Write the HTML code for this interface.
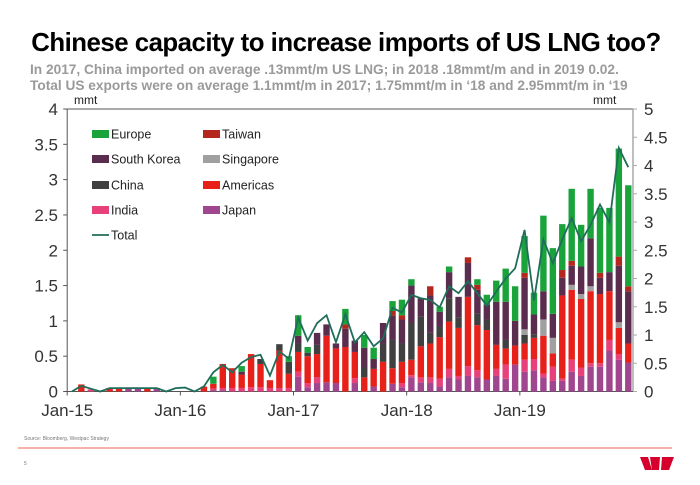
<!DOCTYPE html>
<html><head><meta charset="utf-8">
<style>
body{margin:0;width:700px;height:485px;background:#fff;overflow:hidden;font-family:"Liberation Sans",Arial,sans-serif}
#c{position:absolute;left:0;top:0}
</style></head><body>
<svg id="c" width="700" height="485">
<text x="346" y="51" text-anchor="middle" font-size="25.8" font-weight="bold" fill="#000" letter-spacing="-0.5">Chinese capacity to increase imports of US LNG too?</text>
<text x="30" y="74" font-size="13.7" font-weight="bold" fill="#9a9a9a">In 2017, China imported on average .13mmt/m US LNG; in 2018 .18mmt/m and in 2019 0.02.</text>
<text x="30" y="90" font-size="13.7" font-weight="bold" fill="#9a9a9a">Total US exports were on average 1.1mmt/m in 2017; 1.75mmt/m in ‘18 and 2.95mmt/m in ‘19</text>
<text x="74" y="104" font-size="12" fill="#222">mmt</text>
<text x="593" y="104" font-size="12" fill="#222">mmt</text>
<g id="axes"></g><g id="bars"></g><g id="line"></g>
<g id="legend"></g>
<text x="24" y="440" font-size="5" fill="#777">Source: Bloomberg, Westpac Strategy</text>
<line x1="18" y1="448" x2="672" y2="448" stroke="#f06055" stroke-width="1"/>
<text x="24" y="465" font-size="5" fill="#777">5</text>
<g fill="#d5002b">
<polygon points="640,457 648,457 652,470 645,470"/><polygon points="650,457 660,457 659,470 652,470"/><polygon points="662,457 674,457 669,470 661,470"/>
</g>
</svg>
<script>
const months=60;
const yearLabels=["Jan-15","Jan-16","Jan-17","Jan-18","Jan-19"];
const leftTicks=["0","0.5","1","1.5","2","2.5","3","3.5","4"];
const rightTicks=["0","0.5","1","1.5","2","2.5","3","3.5","4","4.5","5"];
const seriesNames=["Japan","India","Americas","China","Singapore","South Korea","Taiwan","Europe"];
const japan=[0,0,0,0,0,0,.05,.05,0,.05,0,0,0,0,0,.02,.02,0,0,0,0,0,0,0,.21,.06,.12,.13,.12,0,.12,0,.07,0,.11,.06,.2,.13,.12,.07,.2,.17,.22,.2,.17,.22,.18,.38,.28,.3,.2,.15,.15,.28,.22,.35,.35,.58,.45,.41];
const india=[0,0,.03,0,0,0,0,0,0,0,0,0,0,0,0,.02,.03,.05,.05,.06,.06,.05,.05,.05,.07,.06,.08,0,0,0,.07,0,0,0,0,.06,.03,.07,.08,.11,.12,.05,.14,.1,0,.1,.2,0,.17,.16,.05,.2,.03,.17,.12,.05,.05,.15,.08,0];
const americas=[0,.1,0,0,.05,.05,0,0,.05,0,0,0,0,0,.07,.07,.34,.28,.19,.47,.33,.11,.53,.2,.28,.38,.33,.66,.49,.63,.37,.2,.25,.42,.22,.3,.22,.44,.48,.59,.67,.68,.98,.64,.7,.34,.23,.27,.23,.3,.54,.19,1.18,.99,.97,1.02,.98,.69,.37,.27];
const china=[0,0,0,0,0,0,0,0,0,0,0,0,0,0,0,0,0,0,0,0,.07,0,.09,.17,.12,.05,.13,0,0,0,0,.14,0,.26,.4,.26,.52,.42,.15,.15,.33,.15,0,.17,.15,0,.12,0,.12,.05,0,0,0,0,0,0,0,0,0,0];
const singapore=[0,0,0,0,0,0,0,0,0,0,0,0,0,0,0,0,0,0,0,0,0,0,0,0,0,0,0,0,0,0,0,0,0,0,0,0,0,0,0,0,0,0,0,0,0,0,0,0,.08,0,.23,.22,0,.07,.07,.07,0,0,.08,0];
const korea=[0,0,0,0,0,0,0,0,0,0,0,0,0,0,0,0,0,0,.04,0,0,0,0,0,.11,0,.17,.16,.07,.26,.16,.28,.14,.29,.34,.34,.53,.26,.53,.21,.37,.29,.48,.33,.21,.61,.54,.35,.73,.28,.4,.34,.25,.27,.39,.68,.23,.27,.8,.74];
const taiwan=[0,0,0,0,0,0,0,0,0,0,0,0,0,0,0,0,0,0,0,0,0,0,0,0,0,0,0,0,0,.06,0,0,0,0,.07,.06,0,0,.13,0,0,0,.08,.07,0,0,0,0,.07,0,0,0,.11,.07,0,0,.07,0,.13,.07];
const europe=[0,0,0,0,0,0,0,0,0,0,0,0,0,0,0,.1,0,0,.08,0,0,0,0,.08,.29,.08,0,0,0,.22,0,.18,.16,0,.14,.22,.09,0,0,.07,.08,0,0,.08,.14,.3,.47,.49,.52,.31,1.07,.93,.65,1.02,.59,.7,.92,.91,1.53,1.43];
const total=[0,.1,.05,0,.06,.06,.06,.06,.06,.06,0,.06,.07,0,.09,.34,.47,.34,.51,.61,.65,.28,.71,.58,1.31,.9,1.21,1.35,.87,1.37,.87,1.05,.8,.94,1.48,1.4,1.71,1.65,1.62,1.49,1.86,1.74,1.95,1.74,1.52,1.77,2.0,2.18,2.86,1.61,2.69,2.27,2.69,3.07,2.66,2.95,3.31,2.99,4.31,3.97];
const seriesData=[japan,india,americas,china,singapore,korea,taiwan,europe];
const colors=["#a0468e","#e8407a","#e8201a","#404040","#a0a0a0","#5a2d4e","#b5261e","#1aa33a"];
const NS="http://www.w3.org/2000/svg";
const X0=67.2,X1=633,Y0=391.5,YT=109;
const cw=(X1-X0)/months;
function xc(i){return X0+cw*(i+0.5);}
function yL(v){return Y0-(Y0-YT)*v/4;}
function yR(v){return Y0-(Y0-YT)*v/5;}
function mk(tag,attrs,parent){const e=document.createElementNS(NS,tag);for(const k in attrs)e.setAttribute(k,attrs[k]);parent.appendChild(e);return e;}
const ax=document.getElementById('axes');
let e=mk('line',{x1:X0,y1:YT,x2:X1,y2:YT,stroke:'#555','stroke-width':1},ax);

e=mk('line',{x1:X0,y1:YT,x2:X0,y2:Y0,stroke:'#555','stroke-width':1},ax);

e=mk('line',{x1:X1,y1:YT,x2:X1,y2:Y0,stroke:'#aaa','stroke-width':1.5},ax);

e=mk('line',{x1:X0,y1:Y0,x2:X1,y2:Y0,stroke:'#555','stroke-width':1},ax);

leftTicks.forEach((t,k)=>{const y=yL(parseFloat(t));
 mk('line',{x1:X0-4,y1:y,x2:X0,y2:y,stroke:'#555'},ax);
 const tx=mk('text',{x:58,y:y+6,'text-anchor':'end','font-size':17,fill:'#333'},ax);tx.textContent=t;
 });
rightTicks.forEach(t=>{const y=yR(parseFloat(t));
 mk('line',{x1:X1,y1:y,x2:X1+4,y2:y,stroke:'#aaa'},ax);
 const tx=mk('text',{x:644,y:y+6,'font-size':17,fill:'#333'},ax);tx.textContent=t;
 });
yearLabels.forEach((t,k)=>{const x=X0+cw*12*k;
 mk('line',{x1:x,y1:Y0,x2:x,y2:Y0+4,stroke:'#555'},ax);
 const tx=mk('text',{x:x,y:416,'text-anchor':'middle','font-size':17,fill:'#333'},ax);tx.textContent=t;
 });
const bg=document.getElementById('bars');
for(let i=0;i<months;i++){let acc=0;
 seriesData.forEach((s,k)=>{const v=s[i];if(v<=0)return;
  const r=mk('rect',{x:xc(i)-3.2,y:yL(acc+v),width:6.4,height:yL(acc)-yL(acc+v),fill:colors[k]},bg);
  
  
  acc+=v;});}
const lg=document.getElementById('line');
const p=mk('polyline',{points:total.map((v,i)=>xc(i)+','+yR(v)).join(' '),fill:'none',stroke:'#1f6e5a','stroke-width':1.8},lg);


const leg=document.getElementById('legend');
const items=[["Europe",7,92,134],["Taiwan",6,203,134],["South Korea",5,92,159],["Singapore",4,203,159],["China",3,92,185],["Americas",2,203,185],["India",1,92,210],["Japan",0,203,210]];
items.forEach(([n,k,x,y])=>{
 const g=mk('g',{},leg);
 
 
 mk('rect',{x:x,y:y-4,width:17,height:8,fill:colors[k]},g);
 const t=mk('text',{x:x+19,y:y+4.5,'font-size':12.5,fill:'#222'},g);t.textContent=n;});
const gt=mk('g',{},leg);


mk('line',{x1:92,y1:235,x2:109,y2:235,stroke:'#1f6e5a','stroke-width':1.8},gt);
const tt=mk('text',{x:111,y:239.5,'font-size':12.5,fill:'#222'},gt);tt.textContent="Total";
</script>
</body></html>
